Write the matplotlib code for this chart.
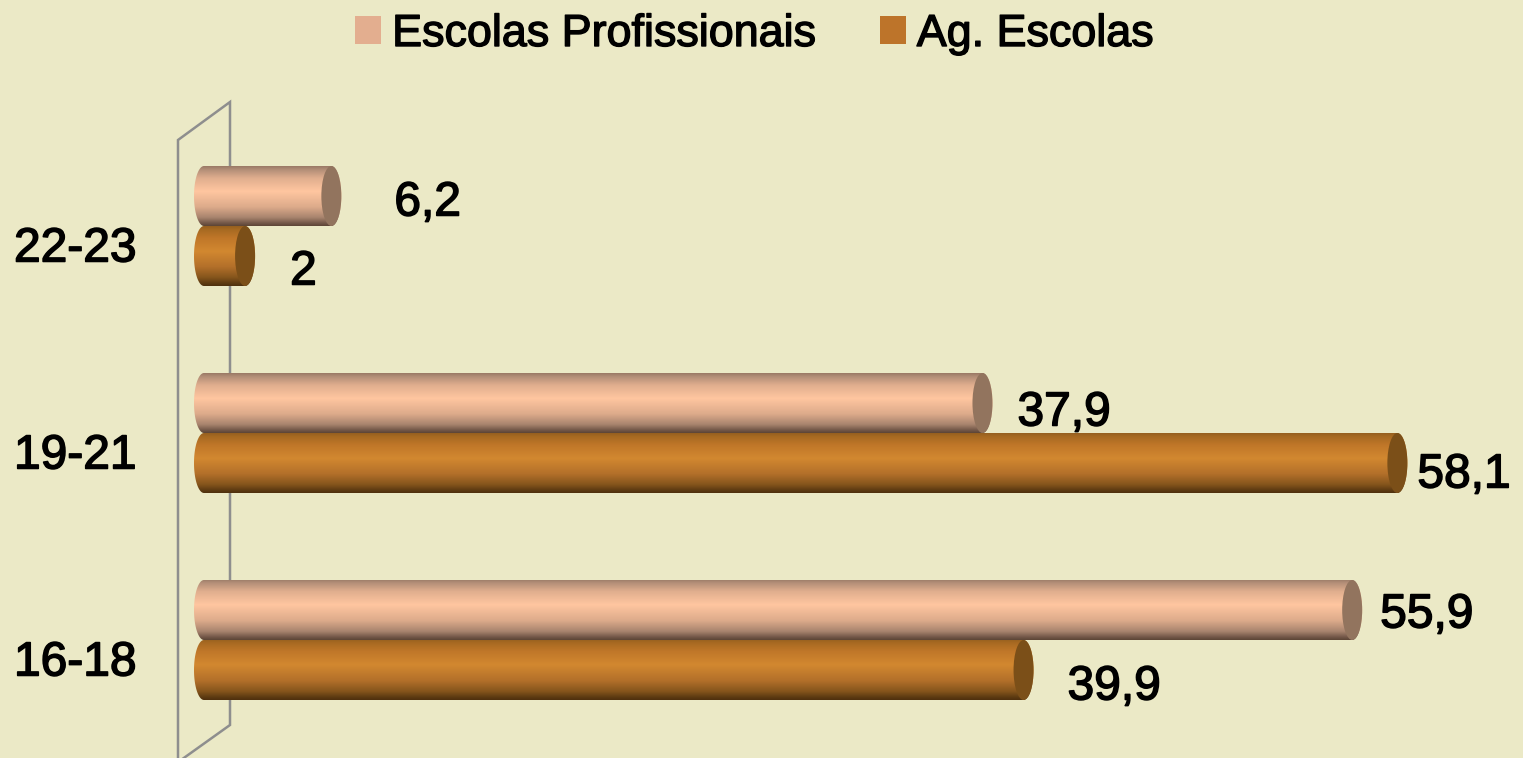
import numpy as np
import matplotlib
matplotlib.use("Agg")
import matplotlib.pyplot as plt
import matplotlib.patheffects as pe
from matplotlib.patches import Ellipse, Patch, PathPatch
from matplotlib.path import Path
from matplotlib.colors import to_rgb
from matplotlib.lines import Line2D

categories = ["16-18", "19-21", "22-23"]
series_names = ["Escolas Profissionais", "Ag. Escolas"]
escolas_profissionais = [55.9, 37.9, 6.2]
ag_escolas = [39.9, 58.1, 2]

W, H = 1523, 758
BG = "#EBE9C6"
plt.rcParams["font.family"] = ["Liberation Sans", "DejaVu Sans"]

fig = plt.figure(figsize=(W / 100, H / 100), dpi=100, facecolor=BG)
ax = fig.add_axes([0, 0, 1, 1])
ax.set_facecolor(BG)

# scale: pixel = 214 + 20.54 * value; row spacing 207 px
PX_X = 20.54
PX_Y = 207.0
XLIM = (-214 / PX_X, (W - 214) / PX_X)
YLIM = (-(H - 640) / PX_Y, 640 / PX_Y)
ax.set_xlim(*XLIM)
ax.set_ylim(*YLIM)
for s in ax.spines.values():
    s.set_visible(False)
ax.set_xticks([])
ax.set_yticks(range(len(categories)))
ax.set_yticklabels([])
ax.tick_params(length=0)

# 3D wall outline (chart furniture), given in figure pixels
wall_px = [(178, 768), (178, 140), (230, 102), (230, 725), (174, 765)]
xs, ys = zip(*wall_px)
ax.add_line(Line2D(np.array(xs) / W, 1 - np.array(ys) / H, transform=ax.transAxes,
                   color="#8E8E8E", lw=1.8, zorder=1, solid_joinstyle="miter"))

bar_h = 60 / PX_Y
ypos = np.arange(len(categories))
stops = [0, .06, .2, .42, .68, .86, .95, 1]
grad_pink = ["#9A7A66", "#B48F78", "#E0AE8E", "#FFC6A0", "#DDAB8B", "#A8846E", "#75594A", "#5D4536"]
grad_brown = ["#96601F", "#A86A22", "#C07729", "#D28830", "#B3702A", "#85551C", "#5F3C12", "#4F300E"]
cap_pink = "#92745E"
cap_brown = "#7B4F18"
rx = 10 / PX_X


def cylinder(rect, colors, cap, z):
    x1 = rect.get_x() + rect.get_width()
    y0, y1 = rect.get_y(), rect.get_y() + rect.get_height()
    yc, ry = (y0 + y1) / 2, (y1 - y0) / 2
    cl, cr = -rx, x1 - rx
    t = np.linspace(np.pi / 2, -np.pi / 2, 60)
    right = np.c_[cr + rx * np.cos(t), yc + ry * np.sin(t)]
    left = np.c_[cl - rx * np.cos(t[::-1]), yc + ry * np.sin(t[::-1])]
    verts = np.vstack([right, left, right[:1]])
    clip = PathPatch(Path(verts), transform=ax.transData, fc="none", ec="none")
    ax.add_patch(clip)
    u = np.linspace(0, 1, 120)
    rgb = np.array([to_rgb(c) for c in colors])
    img = np.stack([np.interp(u, stops, rgb[:, i]) for i in range(3)], axis=1)[:, None, :]
    im = ax.imshow(img, extent=(cl - rx, cr + rx, y0, y1), aspect="auto", origin="upper",
                   zorder=z, interpolation="bilinear")
    im.set_clip_path(clip)
    ax.add_patch(Ellipse((cr, yc), 2 * rx, y1 - y0, fc=cap, ec="none", zorder=z + 0.1))


bars_pink = ax.barh(ypos + bar_h / 2, escolas_profissionais, height=bar_h, color="none", zorder=2)
bars_brown = ax.barh(ypos - bar_h / 2, ag_escolas, height=bar_h, color="none", zorder=2)
for r in bars_brown:
    cylinder(r, grad_brown, cap_brown, 3)
for r in bars_pink:
    cylinder(r, grad_pink, cap_pink, 4)
ax.set_xlim(*XLIM)
ax.set_ylim(*YLIM)

# data labels: offset in px (right, down) from bar end / bar centre
heavy = [pe.withStroke(linewidth=1.1, foreground="black")]
FS = 34.5
off_pink = [(18, 5), (25, 10), (53, 7)]
off_brown = [(34, 17), (10, 12), (35, 16)]
fmt = lambda v: f"{v:g}".replace(".", ",")
for bars, vals, offs in ((bars_pink, escolas_profissionais, off_pink),
                         (bars_brown, ag_escolas, off_brown)):
    for r, v, (dx, dy) in zip(bars, vals, offs):
        ax.annotate(fmt(v), (v, r.get_y() + r.get_height() / 2),
                    xytext=(dx * .72, -dy * .72), textcoords="offset points",
                    fontsize=FS, color="black", ha="left", va="center",
                    zorder=6, annotation_clip=False, path_effects=heavy)

# category labels
for y, c in zip(ypos, categories):
    ax.annotate(c, (14 / W, y), xycoords=ax.get_yaxis_transform(), xytext=(0, -23 * .72),
                textcoords="offset points", fontsize=FS, color="black",
                ha="left", va="center", zorder=6, path_effects=heavy)

handles = [Patch(fc="#E3AE8F", ec="none"), Patch(fc="#BD742A", ec="none")]
leg = ax.legend(handles, series_names, ncol=2, loc="center", bbox_to_anchor=(754.5 / W, 1 - 34.5 / H),
                frameon=False, fontsize=32.3, handlelength=0.58, handleheight=0.58,
                handletextpad=0.24, columnspacing=1.42, borderpad=0, labelspacing=0)
for t in leg.get_texts():
    t.set_path_effects([pe.withStroke(linewidth=1.0, foreground="black")])

fig.savefig("out.png", dpi=100, facecolor=BG)
